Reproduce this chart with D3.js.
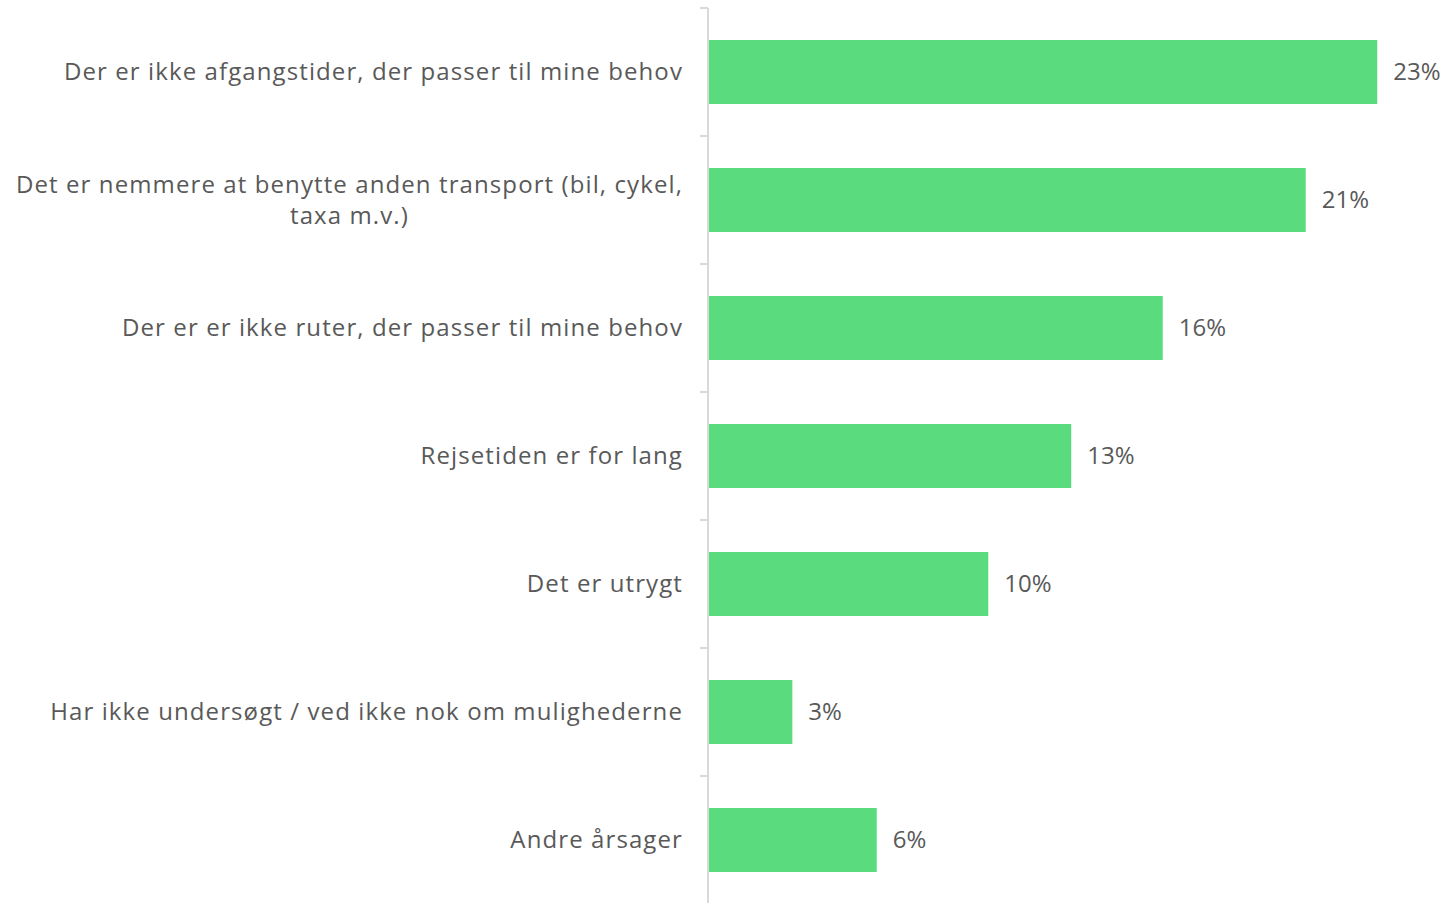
<!DOCTYPE html>
<html><head><meta charset="utf-8">
<script src="https://cdn.jsdelivr.net/npm/d3@7"></script>
<style>
body{margin:0;background:#fff;}
text{font-family:"Open Sans",Lato,sans-serif;}
</style></head>
<body><svg id="c" width="1448" height="903"></svg>
<script>
const categories = [
  "Der er ikke afgangstider, der passer til mine behov",
  "Det er nemmere at benytte anden transport (bil, cykel, taxa m.v.)",
  "Der er er ikke ruter, der passer til mine behov",
  "Rejsetiden er for lang",
  "Det er utrygt",
  "Har ikke undersøgt / ved ikke nok om mulighederne",
  "Andre årsager"
];
const values = [23.4, 20.9, 15.9, 12.7, 9.8, 2.95, 5.9];
const valueLabels = ["23%", "21%", "16%", "13%", "10%", "3%", "6%"];

const svg = d3.select("#c");
const x0 = 708;
const x = d3.scaleLinear().domain([0, 10]).range([x0, x0 + 286]);
const y = d3.scaleBand().domain(categories).range([8, 904]).paddingInner(0.5).paddingOuter(0.25);

const color = "#5adc7e", textColor = "#595959", fs = 24, ls = 1.1;

// axis line and ticks at band boundaries
svg.append("line").attr("x1", x0).attr("x2", x0).attr("y1", 8).attr("y2", 903)
  .attr("stroke", "#d9d9d9").attr("stroke-width", 2);
const step = y.step();
const bounds = d3.range(categories.length + 1).map(i => 8 + i * step);
svg.selectAll("line.tick").data(bounds).enter().append("line").attr("class","tick")
  .attr("x1", x0 - 8).attr("x2", x0).attr("y1", d => d).attr("y2", d => d)
  .attr("stroke", "#d9d9d9").attr("stroke-width", 2);

svg.selectAll("rect.bar").data(values).enter().append("rect").attr("class","bar")
  .attr("x", x0 + 1)
  .attr("y", (d, i) => y(categories[i]))
  .attr("width", d => x(d) - x0 - 1)
  .attr("height", y.bandwidth())
  .attr("fill", color);

svg.selectAll("text.val").data(values).enter().append("text").attr("class","val")
  .attr("x", d => x(d) + 16)
  .attr("y", (d, i) => y(categories[i]) + y.bandwidth() / 2)
  .attr("dy", "0.35em")
  .attr("font-size", fs).attr("fill", textColor)
  .text((d, i) => valueLabels[i]);

// category labels with wrapping (block right-aligned, lines centred)
const maxW = 672, right = 683;
categories.forEach((c, i) => {
  const cy = y(c) + y.bandwidth() / 2;
  const t = svg.append("text")
    .attr("font-size", fs).attr("fill", textColor).attr("letter-spacing", ls);
  const words = c.split(" ");
  let lines = [], cur = [];
  const probe = t.append("tspan");
  const measure = s => { probe.text(s); return probe.node().getComputedTextLength(); };
  words.forEach(w => {
    cur.push(w);
    if (measure(cur.join(" ")) > maxW && cur.length > 1) {
      cur.pop(); lines.push(cur.join(" ")); cur = [w];
    }
  });
  lines.push(cur.join(" "));
  const blockW = d3.max(lines, l => measure(l));
  probe.remove();
  const lh = 31;
  const startY = cy - (lines.length - 1) * lh / 2;
  const anchor = lines.length > 1 ? "middle" : "end";
  const ax = lines.length > 1 ? right - blockW / 2 : right;
  t.attr("text-anchor", anchor);
  lines.forEach((l, k) => {
    t.append("tspan").attr("x", ax).attr("y", startY + k * lh).attr("dy", "0.35em").text(l);
  });
});
</script></body></html>
